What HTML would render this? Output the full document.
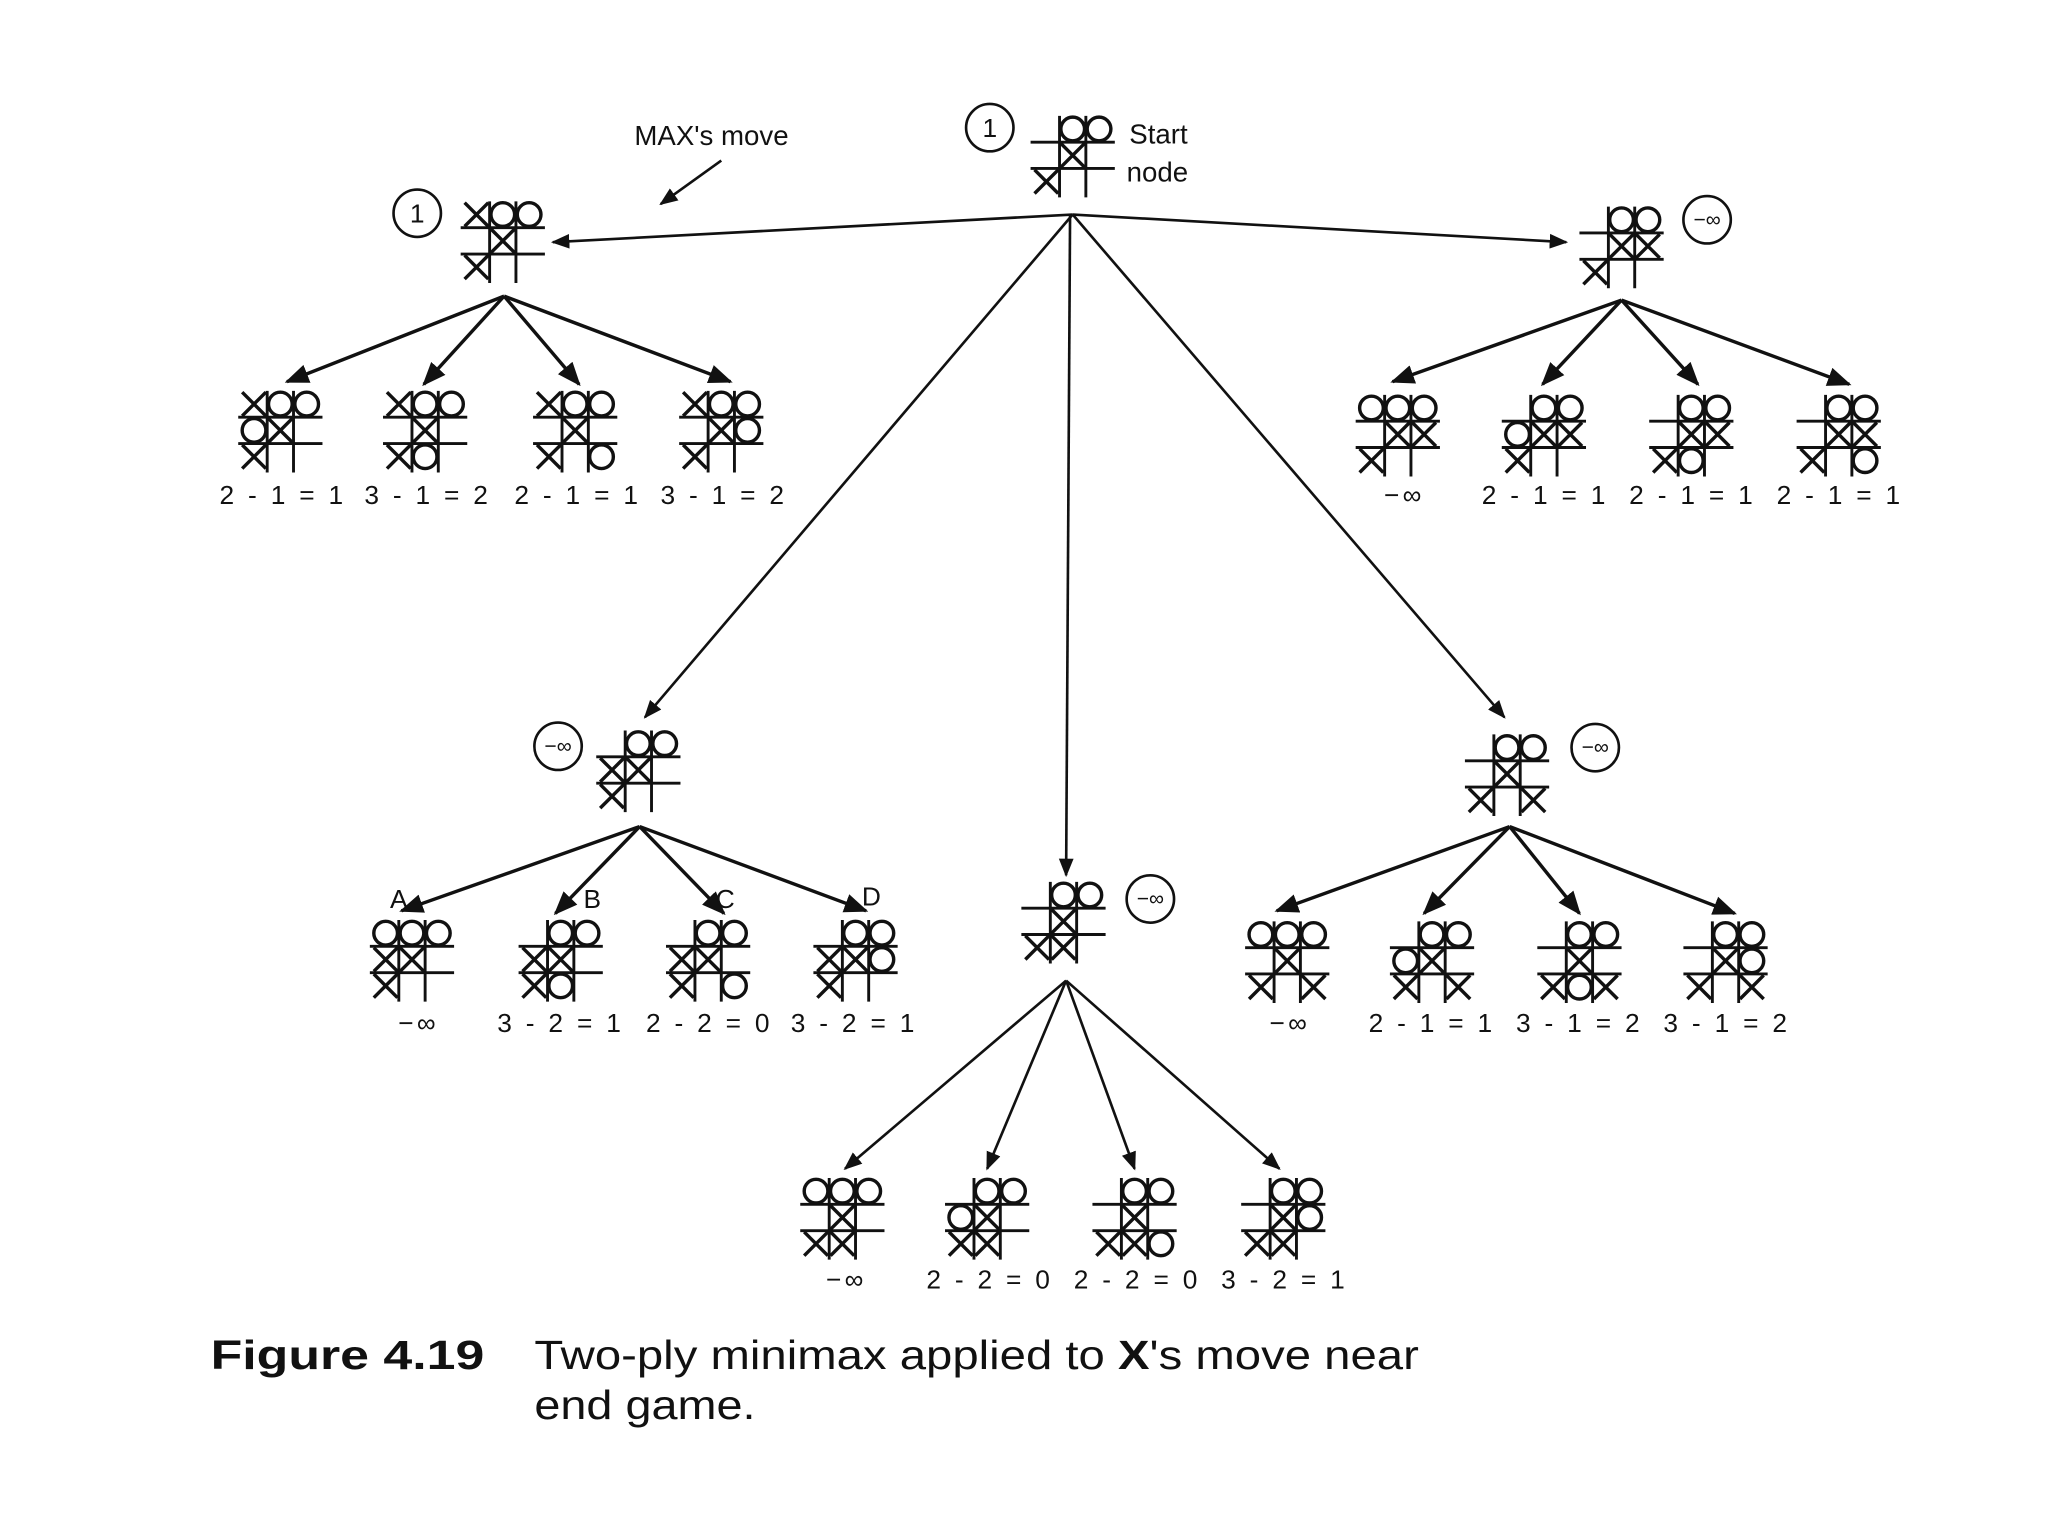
<!DOCTYPE html>
<html><head><meta charset="utf-8"><style>
html,body{margin:0;padding:0;background:#fff;}
svg{display:block;}
text{font-family:"Liberation Sans",sans-serif;fill:#111;}
</style></head><body>
<svg id="s" width="2048" height="1536" viewBox="0 0 1556 1167" xmlns="http://www.w3.org/2000/svg">
<defs><marker id="ah" viewBox="0 0 10 10" refX="9" refY="5" markerWidth="7" markerHeight="7" orient="auto"><path d="M0,1 L10,5 L0,9 z" fill="#111"/></marker></defs>
<g id="g" stroke="#111" fill="none"></g>
<text x="482" y="110" font-size="21">MAX's move</text>
<text x="858" y="109" font-size="21">Start</text>
<text x="856" y="138" font-size="21">node</text>
<g font-size="20" text-anchor="middle">
<text x="752" y="104">1</text>
<text x="317" y="169">1</text>
<text x="1297" y="172" font-size="16">−∞</text>
<text x="424" y="572" font-size="16">−∞</text>
<text x="874" y="688" font-size="16">−∞</text>
<text x="1212" y="573" font-size="16">−∞</text>
</g>
<g font-size="20" text-anchor="middle" letter-spacing="2.5">
<text x="215" y="383">2 - 1 = 1</text>
<text x="325" y="383">3 - 1 = 2</text>
<text x="439" y="383">2 - 1 = 1</text>
<text x="550" y="383">3 - 1 = 2</text>
<text x="1067" y="383">−∞</text>
<text x="1174" y="383">2 - 1 = 1</text>
<text x="1286" y="383">2 - 1 = 1</text>
<text x="1398" y="383">2 - 1 = 1</text>
<text x="318" y="784">−∞</text>
<text x="426" y="784">3 - 2 = 1</text>
<text x="539" y="784">2 - 2 = 0</text>
<text x="649" y="784">3 - 2 = 1</text>
<text x="980" y="784">−∞</text>
<text x="1088" y="784">2 - 1 = 1</text>
<text x="1200" y="784">3 - 1 = 2</text>
<text x="1312" y="784">3 - 1 = 2</text>
<text x="643" y="979">−∞</text>
<text x="752" y="979">2 - 2 = 0</text>
<text x="864" y="979">2 - 2 = 0</text>
<text x="976" y="979">3 - 2 = 1</text>
</g>
<g font-size="20" text-anchor="middle">
<text x="303" y="690">A</text>
<text x="450" y="690">B</text>
<text x="551" y="690">C</text>
<text x="662" y="688">D</text>
</g>
<text x="160" y="1040" font-size="31" font-weight="bold" textLength="208" lengthAdjust="spacingAndGlyphs">Figure 4.19</text>
<text x="406" y="1040" font-size="31" textLength="672" lengthAdjust="spacingAndGlyphs">Two-ply minimax applied to <tspan font-weight="bold">X</tspan>'s move near</text>
<text x="406" y="1078" font-size="31" textLength="168" lengthAdjust="spacingAndGlyphs">end game.</text>
</svg>
<script>
var g=document.getElementById('g'),NS='http://www.w3.org/2000/svg';
function el(t,a){var e=document.createElementNS(NS,t);for(var k in a)e.setAttribute(k,a[k]);g.appendChild(e);return e;}
function line(x1,y1,x2,y2,w,arrow){var e=el('line',{x1:x1,y1:y1,x2:x2,y2:y2,'stroke-width':w||2});if(arrow)e.setAttribute('marker-end','url(#ah)');}
function board(cx,cy,b){var s=20;
 line(cx-s/2,cy-1.5*s,cx-s/2,cy+1.6*s,2.2);line(cx+s/2,cy-1.5*s,cx+s/2,cy+1.6*s,2.2);
 line(cx-1.6*s,cy-s/2,cx+1.6*s,cy-s/2,2.2);line(cx-1.6*s,cy+s/2,cx+1.6*s,cy+s/2,2.2);
 for(var r=0;r<3;r++)for(var c=0;c<3;c++){var ch=b[r*3+c],x=cx+(c-1)*s,y=cy+(r-1)*s,h=s*0.45;
  if(ch=='X'){line(x-h,y-h,x+h,y+h,2.6);line(x-h,y+h,x+h,y-h,2.6);}
  else if(ch=='O'){el('circle',{cx:x,cy:y,r:s*0.45,'stroke-width':2.6});}}}
function circ(x,y){el('circle',{cx:x,cy:y,r:18,'stroke-width':2});}
[[752,97],[317,162],[1297,167],[424,567],[874,683],[1212,568]].forEach(function(p){circ(p[0],p[1]);});
board(815,118,'.OO.X.X..');
board(382,183,'XOO.X.X..');
board(1232,187,'.OO.XXX..');
board(485,585,'.OOXX.X..');
board(808,700,'.OO.X.XX.');
board(1145,588,'.OO.X.X.X');
[[213,'XOOOX.X..'],[323,'XOO.X.XO.'],[437,'XOO.X.X.O'],[548,'XOO.XOX..']].forEach(function(a){board(a[0],327,a[1]);});
[[1062,'OOO.XXX..'],[1173,'.OOOXXX..'],[1285,'.OO.XXXO.'],[1397,'.OO.XXX.O']].forEach(function(a){board(a[0],330,a[1]);});
[[313,'OOOXX.X..'],[426,'.OOXX.XO.'],[538,'.OOXX.X.O'],[650,'.OOXXOX..']].forEach(function(a){board(a[0],729,a[1]);});
[[640,'OOO.X.XX.'],[750,'.OOOX.XX.'],[862,'.OO.X.XXO'],[975,'.OO.XOXX.']].forEach(function(a){board(a[0],925,a[1]);});
[[978,'OOO.X.X.X'],[1088,'.OOOX.X.X'],[1200,'.OO.X.XOX'],[1311,'.OO.XOX.X']].forEach(function(a){board(a[0],730,a[1]);});
line(815,163,420,184,2,1);line(815,163,1190,184,2,1);line(815,163,490,545,2,1);line(813,163,810,665,2,1);line(815,163,1143,545,2,1);
[[218,290],[322,292],[440,292],[555,290]].forEach(function(p){line(383,225,p[0],p[1],2.6,1);});
[[1058,290],[1172,292],[1290,292],[1405,292]].forEach(function(p){line(1232,228,p[0],p[1],2.6,1);});
[[305,692],[422,694],[550,694],[658,692]].forEach(function(p){line(486,628,p[0],p[1],2.6,1);});
[[642,888],[750,888],[862,888],[972,888]].forEach(function(p){line(810,745,p[0],p[1],2,1);});
[[970,692],[1082,694],[1200,694],[1318,694]].forEach(function(p){line(1147,628,p[0],p[1],2.6,1);});
line(548,122,502,155,2,1);
</script>
</body></html>
